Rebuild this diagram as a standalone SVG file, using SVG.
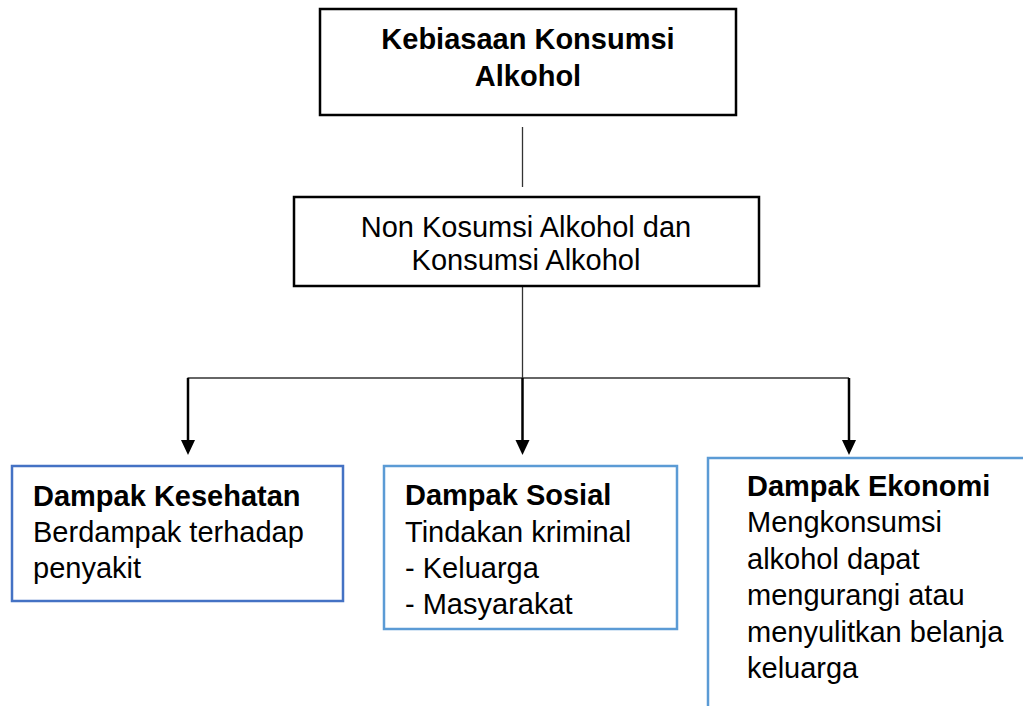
<svg xmlns="http://www.w3.org/2000/svg" width="1023" height="706" viewBox="0 0 1023 706">
<defs>
<style>
.box{fill:#fff;stroke:#000;stroke-width:2.5}
.blue1{fill:#fff;stroke:#4472C4;stroke-width:2.5}
.blue2{fill:#fff;stroke:#5B9BD5;stroke-width:2.5}
.t{font-family:"Liberation Sans",Arial,sans-serif;font-size:29px;fill:#000}
.b{font-weight:bold}
.thin{stroke:#333;stroke-width:1.3;fill:none}
.arr{stroke:#000;stroke-width:2.5;fill:none}
.head{fill:#000}
</style>
</defs>
<rect width="1023" height="706" fill="#fff"/>
<g id="connectors">
<line class="thin" x1="522.5" y1="127" x2="522.5" y2="187"/>
<line class="thin" x1="522.5" y1="286" x2="522.5" y2="378"/>
<line class="thin" x1="187.5" y1="378" x2="849" y2="378"/>
<line class="arr" x1="188" y1="378" x2="188" y2="442"/>
<polygon class="head" points="181,440 195,440 188,455"/>
<line class="arr" x1="522.5" y1="378" x2="522.5" y2="442"/>
<polygon class="head" points="515.5,440 529.5,440 522.5,455"/>
<line class="arr" x1="849" y1="378" x2="849" y2="442"/>
<polygon class="head" points="842,440 856,440 849,455"/>
</g>
<g id="top">
<rect class="box" x="320" y="9" width="416" height="106"/>
<text class="t b" text-anchor="middle" x="528" y="49">Kebiasaan Konsumsi</text>
<text class="t b" text-anchor="middle" x="528" y="86">Alkohol</text>
</g>
<g id="middle">
<rect class="box" x="294" y="197" width="465" height="89"/>
<text class="t" text-anchor="middle" x="526" y="237">Non Kosumsi Alkohol dan</text>
<text class="t" text-anchor="middle" x="526" y="270">Konsumsi Alkohol</text>
</g>
<g id="kesehatan">
<rect class="blue1" x="12" y="466" width="331" height="135"/>
<text class="t b" x="33" y="506">Dampak Kesehatan</text>
<text class="t" x="33" y="542">Berdampak terhadap</text>
<text class="t" x="33" y="578">penyakit</text>
</g>
<g id="sosial">
<rect class="blue2" x="384" y="466" width="293" height="163"/>
<text class="t b" x="405" y="505">Dampak Sosial</text>
<text class="t" x="405" y="542">Tindakan kriminal</text>
<text class="t" x="405" y="578">- Keluarga</text>
<text class="t" x="405" y="614">- Masyarakat</text>
</g>
<g id="ekonomi">
<rect class="blue2" x="708" y="458" width="340" height="270"/>
<text class="t b" x="747" y="496">Dampak Ekonomi</text>
<text class="t" x="747" y="532">Mengkonsumsi</text>
<text class="t" x="747" y="569">alkohol dapat</text>
<text class="t" x="747" y="605">mengurangi atau</text>
<text class="t" x="747" y="642">menyulitkan belanja</text>
<text class="t" x="747" y="678">keluarga</text>
</g>
</svg>
